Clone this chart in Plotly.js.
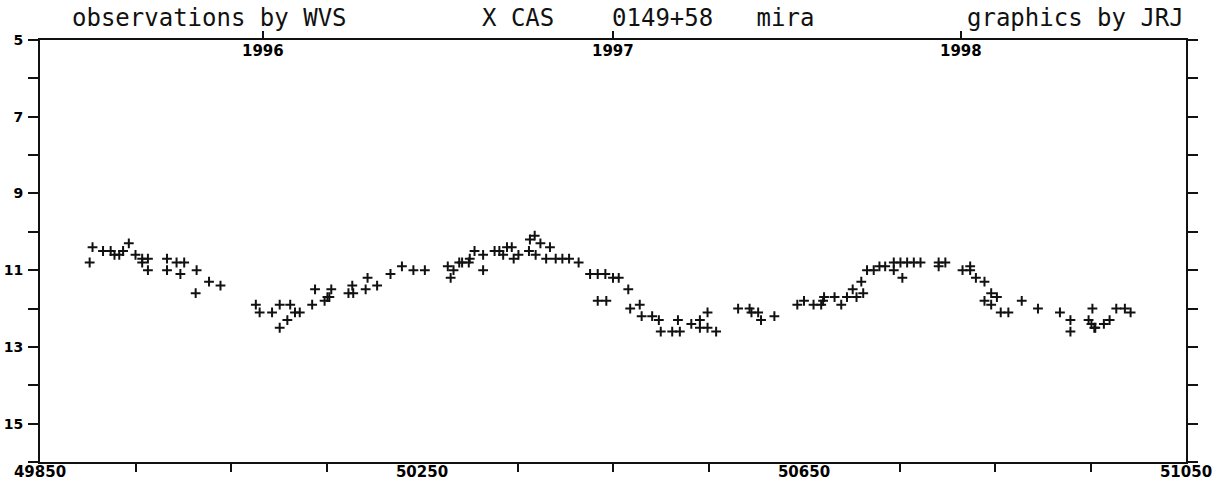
<!DOCTYPE html>
<html><head><meta charset="utf-8">
<script src="https://cdn.plot.ly/plotly-3.0.1.min.js"></script>
<style>html,body{margin:0;padding:0;background:#fff}#chart{width:1214px;height:482px}</style>
</head><body><div id="chart"></div>
<script>
// Julian Date - 2400000
const jd = [49902,49905,49916,49924,49928,49933,49937,49943,49950,49957,49957,49963,49963,49983,49983,49993,50001,49997,50014,50013,50027,50039,
50076,50080,50093,50101,50101,50109,50112,50117,50122,50135,50138,50148,50151,50153,50155,50173,50178,50177,50191,50193,50203,50217,50229,50241,50253,
50277,50283,50280,50289,50292,50299,50300,50305,50314,50314,50326,50331,50335,50339,50344,50346,50351,50363,50368,50362,50369,50374,50384,50380,50390,50397,50404,50414,
50426,50434,50442,50450,50456,50434,50443,50466,50468,50478,50480,50491,50498,50500,50512,50520,50518,50532,50541,50541,50549,50549,50558,
50581,50593,50595,50602,50605,50619,50643,50650,50660,50668,50670,50671,50682,50689,50695,50701,50705,50712,50710,50716,50723,50729,50735,
50744,50751,50758,50765,50772,50744,50753,50791,50791,50798,50816,50824,50824,50830,50839,50846,50852,50839,50846,50856,50864,50878,50895,
50918,50929,50929,50948,50951,50954,50955,50952,50964,50970,50977,50986,50992];
const mag = [10.8,10.4,10.5,10.5,10.6,10.6,10.5,10.3,10.6,10.7,10.8,10.7,11.0,10.7,11.0,10.8,10.8,11.1,11.0,11.6,11.3,11.4,
11.9,12.1,12.1,11.9,12.5,12.3,11.9,12.1,12.1,11.9,11.5,11.8,11.7,11.7,11.5,11.6,11.6,11.4,11.5,11.2,11.4,11.1,10.9,11.0,11.0,
10.9,11.0,11.2,10.8,10.8,10.8,10.7,10.5,10.6,11.0,10.5,10.5,10.6,10.4,10.4,10.7,10.6,10.2,10.1,10.5,10.6,10.3,10.4,10.7,10.7,10.7,10.7,10.8,
11.1,11.1,11.1,11.2,11.2,11.8,11.8,11.5,12.0,11.9,12.2,12.2,12.3,12.6,12.6,12.6,12.3,12.4,12.3,12.5,12.5,12.1,12.6,
12.0,12.0,12.1,12.1,12.3,12.2,11.9,11.8,11.9,11.9,11.8,11.7,11.7,11.9,11.7,11.5,11.7,11.6,11.3,11.0,11.0,10.9,10.9,
10.8,10.8,10.8,10.8,10.8,11.0,11.2,10.8,10.9,10.8,11.0,10.9,11.0,11.2,11.3,11.6,11.7,11.8,11.9,12.1,12.1,11.8,12.0,
12.1,12.3,12.6,12.3,12.4,12.5,12.5,12.0,12.4,12.3,12.0,12.0,12.1];

const xStart = 49850, xEnd = 51050, xMinorStep = 100;
const xTickVals = [49850,50250,50650,51050];
const xTickText = ['49850','50250','50650','51050'];
const yearVals = [50083.5,50449.5,50814.5];
const yearText = ['1996','1997','1998'];
const magTickVals = [5,6,7,8,9,10,11,12,13,14,15,16];
const magTickText = ['5','','7','','9','','11','','13','','15',''];
const headLeft = 'observations by WVS';
const headMid = 'X CAS    0149+58   mira';
const headRight = 'graphics by JRJ';

// unlabeled bottom ticks: every 100 days, skipping labelled positions
const xMinorVals = [];
for (let v = xStart + xMinorStep; v < xEnd; v += xMinorStep) {
  if (!xTickVals.includes(v)) xMinorVals.push(v);
}

const tickFont = {family:'DejaVu Sans', size:15, color:'#000', weight:'bold'};
const yTickFont = {family:'DejaVu Sans', size:14, color:'#000', weight:'bold'};
const yearFont = {family:'DejaVu Sans', size:15, color:'#000', weight:'bold'};
const headFont = {family:'DejaVu Sans Mono', size:24, color:'#111'};

const data = [{
  x: jd, y: mag, type:'scatter', mode:'markers',
  marker:{symbol:'cross-thin', size:7, color:'#000', line:{width:2, color:'#111'}},
  hoverinfo:'x+y', cliponaxis:false
},{
  x: [yearVals[0]], y:[8], xaxis:'x2', yaxis:'y', type:'scatter', mode:'markers',
  marker:{opacity:0}, hoverinfo:'skip', showlegend:false
},{
  x: [xMinorVals[0]], y:[8], xaxis:'x3', yaxis:'y', type:'scatter', mode:'markers',
  marker:{opacity:0}, hoverinfo:'skip', showlegend:false
}];

const annotations = [
  {text:headLeft, xref:'paper', yref:'paper', x:(70-40)/1146, y:1, yshift:22, xanchor:'left', yanchor:'middle', showarrow:false, font:headFont},
  {text:headMid, xref:'paper', yref:'paper', x:(480-40)/1146, y:1, yshift:22, xanchor:'left', yanchor:'middle', showarrow:false, font:headFont},
  {text:headRight, xref:'paper', yref:'paper', x:1, y:1, yshift:22, xanchor:'right', yanchor:'middle', showarrow:false, font:headFont}
];
yearVals.forEach((v, i) => annotations.push({
  text:yearText[i], xref:'x', yref:'paper', x:v, y:1, yshift:-11, xanchor:'center', yanchor:'middle',
  showarrow:false, font:yearFont
}));

const layout = {
  width:1214, height:482,
  margin:{l:40, r:28, t:40, b:20, pad:0},
  paper_bgcolor:'#fff', plot_bgcolor:'#fff',
  showlegend:false,
  xaxis:{
    range:[xStart,xEnd], showgrid:false, zeroline:false,
    showline:true, linecolor:'#111', linewidth:2, mirror:true,
    tickmode:'array', tickvals:xTickVals, ticktext:xTickText,
    ticks:'', ticklen:0, tickfont:tickFont, ticklabelstandoff:-5
  },
  xaxis2:{
    overlaying:'x', side:'top', range:[xStart,xEnd], showgrid:false, zeroline:false,
    showline:false, tickmode:'array', tickvals:yearVals, showticklabels:false,
    ticks:'outside', ticklen:8, tickwidth:2, tickcolor:'#111'
  },
  xaxis3:{
    overlaying:'x', side:'bottom', range:[xStart,xEnd], showgrid:false, zeroline:false,
    showline:false, tickmode:'array', tickvals:xMinorVals, showticklabels:false,
    ticks:'outside', ticklen:9, tickwidth:2, tickcolor:'#111'
  },
  yaxis:{
    range:[16,5], showgrid:false, zeroline:false,
    showline:true, linecolor:'#111', linewidth:2, mirror:'ticks',
    tickmode:'array', tickvals:magTickVals, ticktext:magTickText,
    ticks:'outside', ticklen:10, tickwidth:2, tickcolor:'#111',
    tickfont:yTickFont, ticklabelstandoff:2
  },
  annotations: annotations
};
Plotly.newPlot('chart', data, layout, {staticPlot:true, displayModeBar:false});
</script></body></html>
